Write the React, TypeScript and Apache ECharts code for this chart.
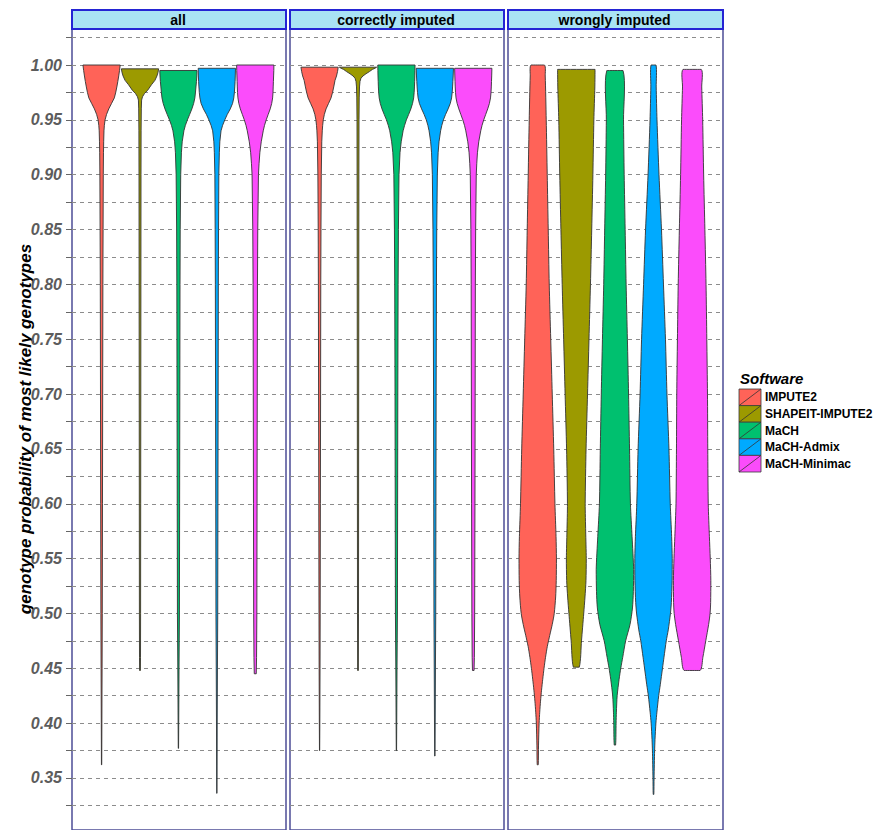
import React, { useEffect, useRef } from 'react';
import * as echarts from 'echarts';

const panels = ['all', 'correctly imputed', 'wrongly imputed'];
const software = ['IMPUTE2', 'SHAPEIT-IMPUTE2', 'MaCH', 'MaCH-Admix', 'MaCH-Minimac'];
const colors = ['#ff6358', '#9c9a00', '#00c06f', '#00aaff', '#fb4cfb'];

const yLabelValues = [0.35, 0.4, 0.45, 0.5, 0.55, 0.6, 0.65, 0.7, 0.75, 0.8, 0.85, 0.9, 0.95, 1.0];
const yTickValues = [
  0.325, 0.35, 0.375, 0.4, 0.425, 0.45, 0.475, 0.5, 0.525, 0.55, 0.575, 0.6, 0.625, 0.65,
  0.675, 0.7, 0.725, 0.75, 0.775, 0.8, 0.825, 0.85, 0.875, 0.9, 0.925, 0.95, 0.975, 1.0, 1.025,
];

// violin outlines: [probability, relative density]
const allImpute2 = [[1.0, 18.7], [0.995, 18], [0.99, 17.2], [0.985, 16.3], [0.98, 15.3], [0.975, 14.2], [0.97, 12.8], [0.965, 10], [0.96, 7.2], [0.955, 5], [0.95, 3.5], [0.945, 2.8], [0.94, 2.4], [0.93, 2.1], [0.92, 1.9], [0.9, 1.7], [0.85, 1.5], [0.8, 1.3], [0.7, 1.1], [0.6, 0.9], [0.5, 0.7], [0.45, 0.5], [0.4, 0.3], [0.362, 0.15]];
const allShapeit = [[0.9965, 18.7], [0.993, 18], [0.99, 17], [0.986, 15], [0.982, 11.5], [0.977, 7.7], [0.974, 4.5], [0.971, 2.5], [0.968, 1.6], [0.96, 1.3], [0.94, 1.1], [0.9, 1.0], [0.8, 0.9], [0.7, 0.8], [0.6, 0.7], [0.5, 0.6], [0.46, 0.5], [0.448, 0.4]];
const allMach = [[0.995, 18.7], [0.99, 18.5], [0.985, 18.1], [0.98, 17.6], [0.975, 17.1], [0.97, 16.5], [0.965, 15.3], [0.96, 13.5], [0.955, 11.3], [0.95, 9], [0.945, 7], [0.94, 5.5], [0.93, 3.8], [0.92, 3], [0.9, 2.3], [0.85, 1.8], [0.8, 1.6], [0.7, 1.4], [0.6, 1.2], [0.5, 1.0], [0.45, 0.6], [0.4, 0.3], [0.377, 0.15]];
const allAdmix = [[0.997, 18.7], [0.99, 18.5], [0.985, 18.3], [0.98, 18], [0.975, 17.6], [0.97, 17], [0.965, 15.8], [0.96, 13.5], [0.955, 10.5], [0.95, 8], [0.945, 5.8], [0.94, 4.2], [0.93, 3], [0.92, 2.5], [0.9, 2], [0.85, 1.7], [0.8, 1.5], [0.7, 1.3], [0.6, 1.1], [0.5, 0.9], [0.45, 0.6], [0.4, 0.35], [0.35, 0.2], [0.336, 0.1]];
const allMinimac = [[1.0, 18.7], [0.995, 18.6], [0.99, 18.4], [0.985, 18.2], [0.98, 18], [0.975, 17.8], [0.97, 17.4], [0.965, 16.5], [0.96, 15], [0.955, 13], [0.95, 11], [0.945, 9.3], [0.94, 8], [0.93, 6], [0.92, 4.6], [0.91, 3.8], [0.9, 3.2], [0.85, 2.5], [0.8, 2.2], [0.7, 2], [0.6, 1.8], [0.5, 1.6], [0.46, 1.3], [0.445, 1.0]];

const corImpute2 = [[0.998, 18.7], [0.994, 18], [0.99, 17], [0.986, 15.5], [0.98, 14.2], [0.975, 13], [0.97, 11.5], [0.965, 9], [0.96, 6.5], [0.955, 4.8], [0.95, 3.7], [0.945, 3.1], [0.94, 2.7], [0.93, 2.2], [0.9, 1.7], [0.85, 1.4], [0.8, 1.2], [0.7, 1.0], [0.6, 0.8], [0.5, 0.6], [0.45, 0.45], [0.4, 0.25], [0.375, 0.1]];
const corShapeit = [[0.998, 18.7], [0.997, 17], [0.996, 14.5], [0.994, 11.5], [0.992, 8], [0.99, 5], [0.988, 3], [0.985, 2], [0.98, 1.5], [0.97, 1.2], [0.95, 1.0], [0.9, 0.9], [0.8, 0.8], [0.7, 0.7], [0.6, 0.6], [0.5, 0.5], [0.448, 0.35]];
const corMach = [[1.0, 18.7], [0.995, 18.6], [0.99, 18.5], [0.985, 18.3], [0.98, 18.1], [0.975, 17.8], [0.97, 17.3], [0.965, 16.2], [0.96, 14.5], [0.955, 12.3], [0.95, 10], [0.945, 8.2], [0.94, 6.7], [0.93, 4.8], [0.92, 3.6], [0.9, 2.6], [0.85, 2], [0.8, 1.7], [0.7, 1.4], [0.6, 1.2], [0.5, 1.0], [0.45, 0.6], [0.4, 0.3], [0.375, 0.15]];
const corAdmix = [[0.997, 18.7], [0.99, 18.4], [0.985, 18.1], [0.98, 17.8], [0.975, 17.4], [0.97, 16.8], [0.965, 15.5], [0.96, 13.3], [0.955, 10.8], [0.95, 8.6], [0.945, 7], [0.94, 5.8], [0.93, 4.2], [0.92, 3.3], [0.9, 2.5], [0.85, 1.9], [0.8, 1.6], [0.7, 1.3], [0.6, 1.1], [0.5, 0.9], [0.45, 0.6], [0.4, 0.35], [0.37, 0.15]];
const corMinimac = [[0.997, 18.7], [0.99, 18.5], [0.985, 18.3], [0.98, 18.1], [0.975, 17.8], [0.97, 17.3], [0.965, 16.2], [0.96, 14.5], [0.955, 12.5], [0.95, 10.5], [0.945, 8.8], [0.94, 7.5], [0.93, 5.5], [0.92, 4.2], [0.91, 3.5], [0.9, 3], [0.85, 2.4], [0.8, 2.1], [0.7, 1.9], [0.6, 1.7], [0.5, 1.4], [0.46, 1.1], [0.448, 0.8]];

const wrgImpute2 = [[1.0, 6.7], [0.99, 7.5], [0.95, 8.5], [0.9, 9.5], [0.85, 10.5], [0.8, 11.5], [0.75, 13], [0.7, 14.5], [0.65, 16], [0.6, 17.2], [0.57, 18.3], [0.55, 18.7], [0.53, 18.5], [0.515, 17.9], [0.5, 16.5], [0.49, 14.5], [0.48, 12], [0.47, 9.6], [0.46, 7.8], [0.45, 6.3], [0.44, 5], [0.43, 3.8], [0.42, 2.8], [0.41, 2], [0.4, 1.4], [0.38, 0.8], [0.362, 0.5]];
const wrgShapeit = [[0.996, 19.2], [0.98, 19], [0.95, 18], [0.9, 17], [0.85, 15.8], [0.8, 14.5], [0.75, 13], [0.7, 11.5], [0.65, 10], [0.6, 9.1], [0.575, 9.6], [0.55, 10.2], [0.53, 9.9], [0.515, 8.9], [0.5, 7.6], [0.475, 5.3], [0.451, 3]];
const wrgMach = [[0.995, 8.3], [0.95, 8.8], [0.9, 9.5], [0.85, 10.5], [0.8, 11.5], [0.75, 12.8], [0.7, 14], [0.65, 15], [0.6, 15.9], [0.57, 17.6], [0.54, 19.2], [0.52, 18.9], [0.505, 18], [0.49, 15.5], [0.475, 11], [0.46, 8], [0.45, 6], [0.44, 4.3], [0.425, 2.3], [0.41, 1.5], [0.4, 1.2], [0.38, 0.7]];
const wrgAdmix = [[1.0, 2.5], [0.98, 2.7], [0.95, 3.5], [0.9, 5.5], [0.85, 8], [0.8, 10], [0.75, 12], [0.7, 13.5], [0.65, 15.5], [0.6, 16.8], [0.57, 18.2], [0.55, 18.8], [0.53, 18.7], [0.51, 17.9], [0.5, 17], [0.485, 14.8], [0.475, 12.8], [0.46, 10.5], [0.45, 9], [0.435, 6.8], [0.425, 5.2], [0.41, 3.4], [0.4, 2.4], [0.385, 1.5], [0.375, 1.1], [0.35, 0.55], [0.335, 0.3]];
const wrgMinimac = [[0.996, 9.5], [0.98, 10], [0.95, 11], [0.9, 12], [0.85, 13.3], [0.8, 14.5], [0.75, 15.3], [0.7, 16], [0.65, 16.3], [0.6, 16.8], [0.57, 18], [0.55, 18.9], [0.53, 19.5], [0.51, 19.3], [0.5, 18.7], [0.49, 17.2], [0.475, 14.2], [0.46, 11.2], [0.448, 8.3]];

const violins = [
  [allImpute2, allShapeit, allMach, allAdmix, allMinimac],
  [corImpute2, corShapeit, corMach, corAdmix, corMinimac],
  [wrgImpute2, wrgShapeit, wrgMach, wrgAdmix, wrgMinimac],
];

const FONT = "'Liberation Sans', Arial, sans-serif";
const Y_MIN = 1 - 765 / 1096.9;
const Y_MAX = 1 + 36 / 1096.9;
const X_MIN = 0.23;
const X_MAX = 5.8;
const HALF_WIDTH = 0.485;
const panelLeft = [72, 290, 508];
const panelWidth = [214, 214, 215];
const panelTop = 29;
const panelHeight = 801;

export default function App() {
  const ref = useRef<HTMLDivElement>(null);
  useEffect(() => {
    if (!ref.current) return;
    const chart = echarts.init(ref.current, null, { renderer: 'svg' });

    const series: any[] = [];
    panels.forEach((_, g) => {
      software.forEach((name, s) => {
        const outline = violins[g][s] as number[][];
        const maxD = Math.max(...outline.map((d) => d[1]));
        series.push({
          type: 'custom',
          name,
          coordinateSystem: 'cartesian2d',
          xAxisIndex: g,
          yAxisIndex: g,
          data: [[s + 1, outline[0][0]]],
          encode: { x: 0, y: 1 },
          clip: true,
          renderItem: (params: any, api: any) => {
            const c = api.value(0);
            const right = outline.map(([p, d]) => api.coord([c + (d / maxD) * HALF_WIDTH, p]));
            const left = outline
              .slice()
              .reverse()
              .map(([p, d]) => api.coord([c - (d / maxD) * HALF_WIDTH, p]));
            const pts = right.concat(left);
            const xs = pts.map((q: number[]) => q[0]);
            const ys = pts.map((q: number[]) => q[1]);
            const constraint = [
              [Math.min(...xs), Math.min(...ys)],
              [Math.max(...xs), Math.max(...ys)],
            ];
            return {
              type: 'polygon',
              shape: g === 2 ? { points: pts, smooth: 0.25, smoothConstraint: constraint } : { points: pts },
              style: { fill: colors[s], stroke: '#333333', lineWidth: 0.9 },
            };
          },
        });
      });
    });

    const graphics: any[] = [];
    panels.forEach((label, g) => {
      graphics.push({
        type: 'rect',
        z: 100,
        shape: { x: panelLeft[g], y: 10, width: panelWidth[g], height: 19 },
        style: { fill: '#a9e3f4', stroke: '#2424d4', lineWidth: 2 },
      });
      graphics.push({
        type: 'text',
        z: 101,
        x: panelLeft[g] + panelWidth[g] / 2 - 1,
        y: 20,
        style: {
          text: label,
          fill: '#000',
          font: `bold 14px ${FONT}`,
          textAlign: 'center',
          textVerticalAlign: 'middle',
        },
      });
    });
    graphics.push({
      type: 'text',
      x: 25,
      y: 429,
      rotation: Math.PI / 2,
      style: {
        text: 'genotype probability of most likely genotypes',
        fill: '#000',
        font: `italic bold 17px ${FONT}`,
        textAlign: 'center',
        textVerticalAlign: 'middle',
      },
    });
    graphics.push({
      type: 'text',
      x: 740,
      y: 378,
      style: {
        text: 'Software',
        fill: '#000',
        font: `italic bold 15px ${FONT}`,
        textAlign: 'left',
        textVerticalAlign: 'middle',
      },
    });
    const keyH = 16.6;
    software.forEach((name, s) => {
      const y0 = 389 + s * keyH;
      graphics.push({
        type: 'rect',
        shape: { x: 739, y: y0, width: 22, height: keyH },
        style: { fill: colors[s], stroke: '#3a3a3a', lineWidth: 0.8 },
      });
      graphics.push({
        type: 'line',
        shape: { x1: 739, y1: y0 + keyH, x2: 761, y2: y0 },
        style: { stroke: '#333', lineWidth: 0.8 },
      });
      graphics.push({
        type: 'text',
        x: 765,
        y: y0 + keyH / 2,
        style: {
          text: name,
          fill: '#000',
          font: `bold 12px ${FONT}`,
          textAlign: 'left',
          textVerticalAlign: 'middle',
        },
      });
    });

    chart.setOption({
      animation: false,
      backgroundColor: '#ffffff',
      grid: panels.map((_, g) => ({
        left: panelLeft[g],
        top: panelTop,
        width: panelWidth[g],
        height: panelHeight,
        show: true,
        backgroundColor: '#ffffff',
        borderColor: '#4e4e96',
        borderWidth: 1.5,
      })),
      xAxis: panels.map((_, g) => ({
        type: 'value',
        gridIndex: g,
        min: X_MIN,
        max: X_MAX,
        show: false,
      })),
      yAxis: panels.map((_, g) => ({
        type: 'value',
        gridIndex: g,
        min: Y_MIN,
        max: Y_MAX,
        axisLine: { show: false },
        axisTick: {
          show: g === 0,
          length: 6,
          lineStyle: { color: '#666' },
          customValues: yTickValues,
        },
        axisLabel: {
          show: g === 0,
          customValues: yLabelValues,
          formatter: (v: number) => v.toFixed(2),
          margin: 10,
          fontSize: 16,
          fontStyle: 'italic',
          fontWeight: 'bold',
          color: '#5c5c5c',
          fontFamily: FONT,
        },
        splitLine: {
          show: true,
          lineStyle: { color: '#8c8c8c', type: [4, 4], width: 1 },
        },
      })),
      graphic: graphics,
      series,
    });
    return () => chart.dispose();
  }, []);
  return (
    <div
      ref={ref}
      style={{ position: 'fixed', left: 0, top: 0, width: 877, height: 830 }}
    />
  );
}
